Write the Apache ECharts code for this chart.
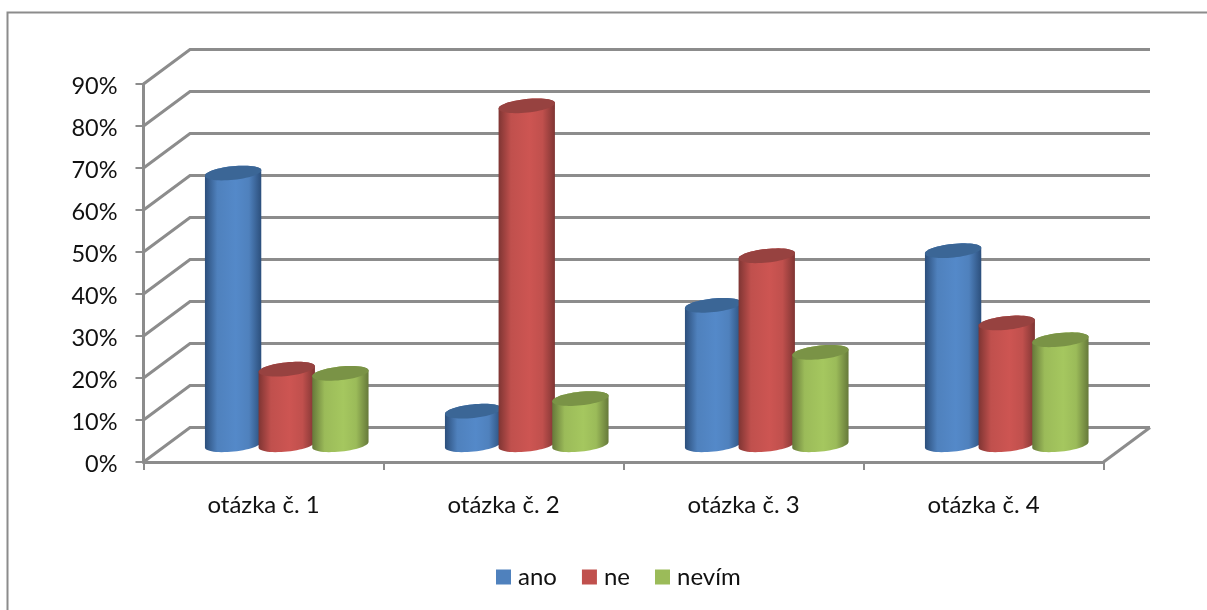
<!DOCTYPE html>
<html>
<head>
<meta charset="utf-8">
<style>html,body{margin:0;padding:0;background:#fff}#c{width:1207px;height:610px}</style>
<script src="https://cdn.jsdelivr.net/npm/echarts@6/dist/echarts.min.js"></script>
</head>
<body>
<div id="c"></div>
<script>
const categories = ['otázka č. 1', 'otázka č. 2', 'otázka č. 3', 'otázka č. 4'];
const ano = [64.7, 8, 33.2, 46.2];
const ne = [18, 80.7, 45, 29];
const nevim = [17, 11, 22, 25];
const yTicks = [0, 10, 20, 30, 40, 50, 60, 70, 80, 90];

const FONT = 'Lato';
const GREY = '#8c8c8c';
const DEPTH_X = 46.5, DEPTH_Y = -34.5;
const TILT = -6 * Math.PI / 180;

const shades = {
  ano:   { side: '#4f81bd', edge: '#2c4f7c', mid: '#5489c9', top: '#3b6696' },
  ne:    { side: '#c0504d', edge: '#7f3533', mid: '#cd5552', top: '#974240' },
  nevim: { side: '#9bbb59', edge: '#66793a', mid: '#a5c75f', top: '#7a9346' }
};

function ellipsePts(cx, cy, rx, ry, from, to, n) {
  const pts = [];
  for (let i = 0; i <= n; i++) {
    const t = from + (to - from) * i / n;
    const x = rx * Math.cos(t), y = ry * Math.sin(t);
    pts.push([cx + x * Math.cos(TILT) - y * Math.sin(TILT),
              cy + x * Math.sin(TILT) + y * Math.cos(TILT)]);
  }
  return pts;
}

function cylinderSeries(name, values, slot) {
  const c = shades[slot.key];
  return {
    type: 'custom',
    name: name,
    z: 3 + slot.i,
    coordinateSystem: 'cartesian2d',
    encode: { x: 0, y: 1 },
    itemStyle: { color: c.side },
    data: values.map((v, i) => [i, v]),
    renderItem(params, api) {
      const band = api.size([1, 0])[0];
      const base = api.coord([api.value(0), 0]);
      const top = api.coord([api.value(0), api.value(1)]);
      const step = band * 0.2235;
      const cx = base[0] + DEPTH_X / 2 + (slot.i - 1) * step;
      const rx = band * 0.118, ry = 6.8;
      const by = base[1] + DEPTH_Y / 2, ty = top[1] + DEPTH_Y / 2;
      const bottom = ellipsePts(cx, by, rx, ry, 0, Math.PI, 28);
      const upper = ellipsePts(cx, ty, rx, ry, Math.PI, 2 * Math.PI, 28);
      return {
        type: 'group',
        children: [
          {
            type: 'polygon',
            shape: { points: bottom.concat(upper) },
            style: {
              fill: new echarts.graphic.LinearGradient(0, 0, 1, 0, [
                { offset: 0, color: c.edge },
                { offset: 0.22, color: c.side },
                { offset: 0.55, color: c.mid },
                { offset: 0.78, color: c.side },
                { offset: 1, color: c.edge }
              ])
            }
          },
          {
            type: 'polygon',
            shape: { points: ellipsePts(cx, ty, rx, ry, 0, 2 * Math.PI, 56) },
            style: { fill: c.top }
          }
        ]
      };
    }
  };
}

const wallSeries = {
  type: 'custom',
  name: 'wall',
  z: 1,
  coordinateSystem: 'cartesian2d',
  silent: true,
  encode: { y: 1 },
  data: yTicks.map(v => [0, v]),
  renderItem(params, api) {
    const rect = params.coordSys;
    const y = api.coord([0, api.value(1)])[1];
    const left = rect.x, right = rect.x + rect.width;
    const line = { stroke: GREY, lineWidth: 3, fill: null };
    const kids = [
      { type: 'polyline', shape: { points: [[left, y], [left + DEPTH_X, y + DEPTH_Y], [right + DEPTH_X, y + DEPTH_Y]] }, style: line }
    ];
    if (api.value(1) === 0) {
      kids.push({ type: 'line', shape: { x1: right, y1: y, x2: right + DEPTH_X, y2: y + DEPTH_Y }, style: line });
    }
    return { type: 'group', children: kids };
  }
};

const chart = echarts.init(document.getElementById('c'), null, { renderer: 'canvas' });
chart.setOption({
  animation: false,
  backgroundColor: '#fff',
  textStyle: { fontFamily: FONT },
  graphic: [{
    type: 'polyline',
    silent: true,
    shape: { points: [[7.5, 610], [7.5, 12.5], [1207, 12.5]] },
    style: { stroke: GREY, lineWidth: 2, fill: null }
  }],
  grid: { left: 143.5, right: 103.5, top: 84, bottom: 148 },
  legend: {
    data: ['ano', 'ne', 'nevím'],
    left: 491,
    top: 560,
    icon: 'rect',
    itemWidth: 15,
    itemHeight: 15,
    itemGap: 25,
    textStyle: { fontFamily: FONT, fontSize: 24, color: '#111', padding: [0, 0, 0, 2] }
  },
  xAxis: {
    type: 'category',
    data: categories,
    boundaryGap: true,
    axisLine: { show: true, lineStyle: { color: GREY, width: 3 } },
    axisTick: { show: true, alignWithLabel: false, length: 8, lineStyle: { color: GREY, width: 2 } },
    axisLabel: { color: '#111', fontSize: 24, margin: 31, fontFamily: FONT },
    splitLine: { show: false }
  },
  yAxis: {
    type: 'value',
    min: 0,
    max: 90,
    interval: 10,
    axisLine: { show: true, lineStyle: { color: GREY, width: 3 } },
    axisTick: { show: true, length: 8, lineStyle: { color: GREY, width: 2 } },
    axisLabel: {
      margin: 26,
      formatter: '{p|{value}%}',
      rich: { p: { color: '#111', fontSize: 23.5, fontFamily: FONT, padding: [4, 0, 0, 0] } }
    },
    splitLine: { show: false }
  },
  series: [
    wallSeries,
    cylinderSeries('ano', ano, { key: 'ano', i: 0 }),
    cylinderSeries('ne', ne, { key: 'ne', i: 1 }),
    cylinderSeries('nevím', nevim, { key: 'nevim', i: 2 })
  ]
});
</script>
</body>
</html>
